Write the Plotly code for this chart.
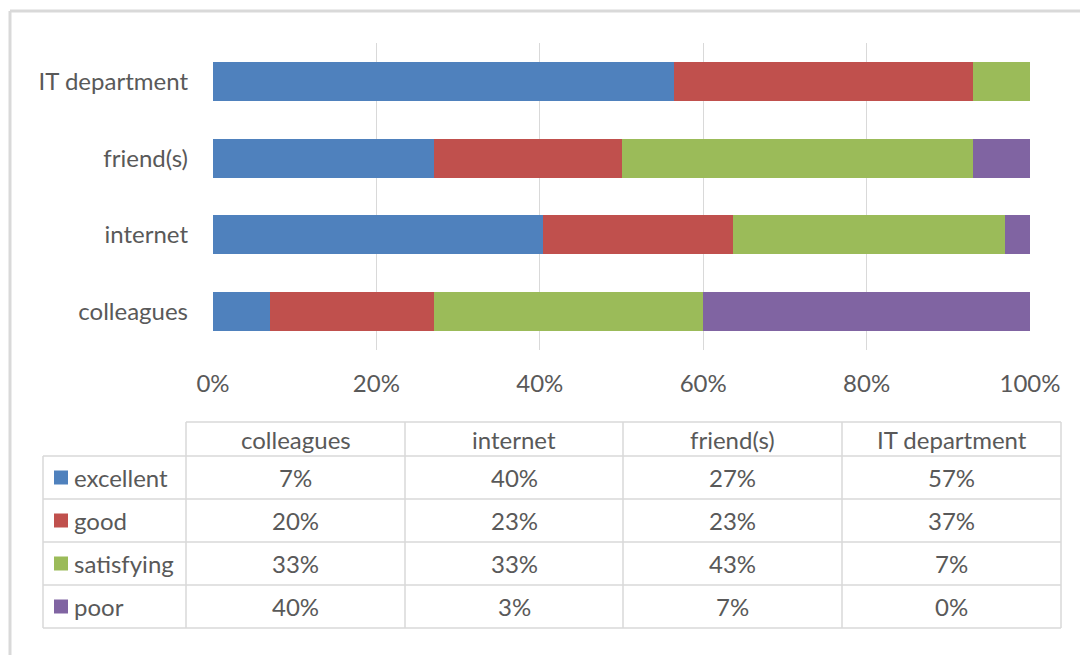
import plotly.graph_objects as go

# Sources of help and how respondents rated them
sources = ["colleagues", "internet", "friend(s)", "IT department"]
ratings = ["excellent", "good", "satisfying", "poor"]
excellent = [7, 40, 27, 57]
good = [20, 23, 23, 37]
satisfying = [33, 33, 43, 7]
poor = [40, 3, 7, 0]
series_values = [excellent, good, satisfying, poor]
colors = ["#4F81BD", "#C0504D", "#9BBB59", "#8064A2"]
x_ticks = [0, 20, 40, 60, 80, 100]
x_tick_labels = ["0%", "20%", "40%", "60%", "80%", "100%"]

W, H = 1080, 655
PL, PR, PT, PB = 213, 1030, 43, 350  # plot area in pixels
FONT = "Lato, Carlito, Calibri, sans-serif"
FS = 24
TXT = "#595959"
GRID = "#D9D9D9"


def xp(px):
    return (px - PL) / (PR - PL)


def yp(py):
    return (PB - py) / (PB - PT)


fig = go.Figure()
for name, vals, col in zip(ratings, series_values, colors):
    fig.add_trace(go.Bar(
        y=sources, x=vals, name=name, orientation="h",
        marker=dict(color=col, line=dict(width=0)),
    ))

fig.update_layout(
    width=W, height=H,
    barmode="stack", barnorm="percent", bargap=0.49,
    showlegend=False,
    plot_bgcolor="white", paper_bgcolor="white",
    margin=dict(l=PL, r=W - PR, t=PT, b=H - PB),
    font=dict(family=FONT, color=TXT, size=FS),
)
fig.update_xaxes(
    range=[0, 100], tickvals=x_ticks, ticktext=x_tick_labels,
    showgrid=True, gridcolor=GRID, gridwidth=1, zeroline=False,
    showline=False, ticks="", ticklabelstandoff=17,
    tickfont=dict(size=FS, color=TXT, family=FONT),
)
fig.update_yaxes(
    categoryorder="array", categoryarray=sources,
    showgrid=False, zeroline=False, showline=False, ticks="",
    ticklabelstandoff=24, tickfont=dict(size=FS, color=TXT, family=FONT),
)

shapes = []
annotations = []

# Outer chart frame (top and left edges)
shapes.append(dict(type="line", xref="paper", yref="paper",
                   x0=xp(10), x1=xp(1080), y0=yp(11), y1=yp(11),
                   line=dict(color=GRID, width=3)))
shapes.append(dict(type="line", xref="paper", yref="paper",
                   x0=xp(10), x1=xp(10), y0=yp(11), y1=yp(655),
                   line=dict(color=GRID, width=3)))

# Data table below the chart
col_edges = [43, 186, 405, 623, 842, 1061]
row_edges = [422, 456, 499, 542, 585, 628]
line_style = dict(color=GRID, width=1.5)

# horizontal rules
shapes.append(dict(type="line", xref="paper", yref="paper",
                   x0=xp(col_edges[1]), x1=xp(col_edges[-1]),
                   y0=yp(row_edges[0]), y1=yp(row_edges[0]), line=line_style))
for ry in row_edges[1:]:
    shapes.append(dict(type="line", xref="paper", yref="paper",
                       x0=xp(col_edges[0]), x1=xp(col_edges[-1]),
                       y0=yp(ry), y1=yp(ry), line=line_style))
# vertical rules
shapes.append(dict(type="line", xref="paper", yref="paper",
                   x0=xp(col_edges[0]), x1=xp(col_edges[0]),
                   y0=yp(row_edges[1]), y1=yp(row_edges[-1]), line=line_style))
for cx in col_edges[1:]:
    shapes.append(dict(type="line", xref="paper", yref="paper",
                       x0=xp(cx), x1=xp(cx),
                       y0=yp(row_edges[0]), y1=yp(row_edges[-1]), line=line_style))

# header row
for j, src in enumerate(sources):
    cx = (col_edges[j + 1] + col_edges[j + 2]) / 2
    cy = (row_edges[0] + row_edges[1]) / 2
    annotations.append(dict(xref="paper", yref="paper", x=xp(cx), y=yp(cy),
                            text=src, showarrow=False, xanchor="center",
                            yanchor="middle", font=dict(size=FS, color=TXT, family=FONT)))

# body rows: legend key + values
for i, (name, vals, col) in enumerate(zip(ratings, series_values, colors)):
    cy = (row_edges[i + 1] + row_edges[i + 2]) / 2
    shapes.append(dict(type="rect", xref="paper", yref="paper",
                       x0=xp(54), x1=xp(68), y0=yp(cy - 7), y1=yp(cy + 7),
                       fillcolor=col, line=dict(width=0)))
    annotations.append(dict(xref="paper", yref="paper", x=xp(72), y=yp(cy),
                            text=name, showarrow=False, xanchor="left",
                            yanchor="middle", font=dict(size=FS, color=TXT, family=FONT)))
    for j, v in enumerate(vals):
        cx = (col_edges[j + 1] + col_edges[j + 2]) / 2
        annotations.append(dict(xref="paper", yref="paper", x=xp(cx), y=yp(cy),
                                text=f"{v}%", showarrow=False, xanchor="center",
                                yanchor="middle", font=dict(size=FS, color=TXT, family=FONT)))

fig.update_layout(shapes=shapes, annotations=annotations)
fig.write_html("out.html")
